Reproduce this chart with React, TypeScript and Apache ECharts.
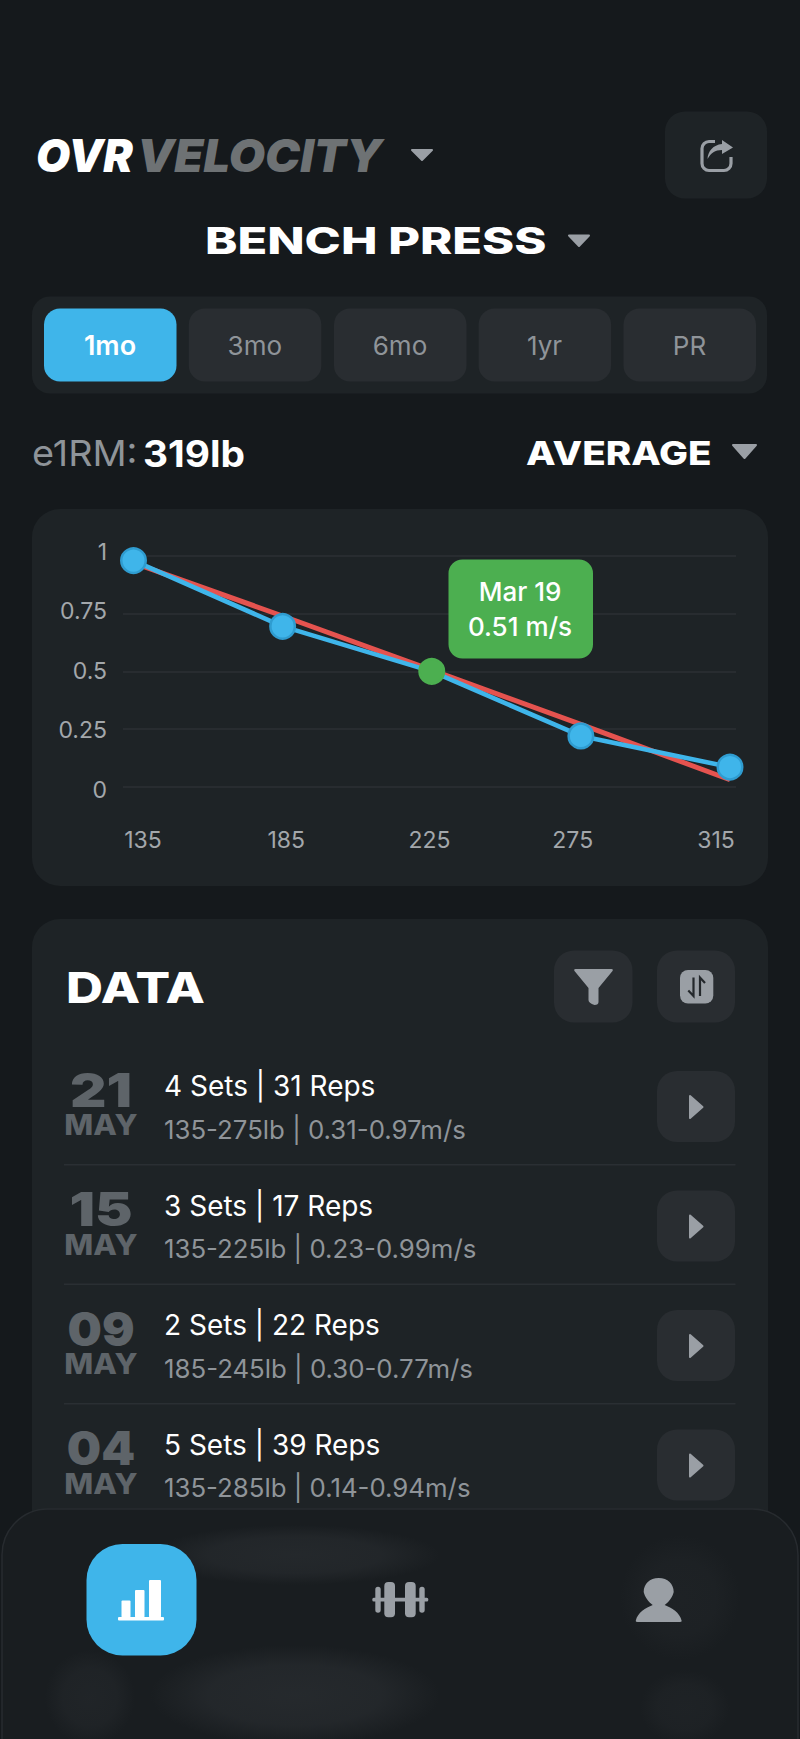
import { useEffect, useRef } from 'react';
import * as echarts from 'echarts';

const loads = ['135', '185', '225', '275', '315'];
const measuredVelocity = [0.98, 0.695, 0.5, 0.22, 0.085];
const trendVelocity = [0.97, 0.74, 0.505, 0.27, 0.03];
const selectedIndex = 2;
const selectedDate = 'Mar 19';
const selectedValue = '0.51 m/s';

const ranges = ['1mo', '3mo', '6mo', '1yr', 'PR'];
const days = ['21', '15', '09', '04'];
const months = ['MAY', 'MAY', 'MAY', 'MAY'];
const setCounts = [4, 3, 2, 5];
const repCounts = [31, 17, 22, 39];
const loadRanges = ['135-275lb', '135-225lb', '185-245lb', '135-285lb'];
const velocityRanges = ['0.31-0.97m/s', '0.23-0.99m/s', '0.30-0.77m/s', '0.14-0.94m/s'];

const FONT = 'Inter';
const BG = '#15191c';
const CARD = '#1e2326';
const BTN = '#292d31';
const BLUE = '#3fb5ea';
const BLUE_EDGE = '#2f9cd0';
const RED = '#e5534f';
const GREEN = '#4caf50';
const GREY = '#9a9fa5';
const DIM = '#8f9499';

echarts.graphic.registerShape('shareBox', echarts.graphic.extendPath(
  'M15 2.5 H9 a7 7 0 0 0 -7 7 V24.5 a7 7 0 0 0 7 7 H24 a7 7 0 0 0 7 -7 V18', {}));
echarts.graphic.registerShape('shareArrow', echarts.graphic.extendPath(
  'M22 1 L33 8.5 L22 15 V11 C15 11 11 14 7.5 20 C8 12 13 6 22 5 Z', {}));
echarts.graphic.registerShape('funnel', echarts.graphic.extendPath(
  'M2 0 H38 Q40 0 39 2 L25 19 V33 Q25 36 21 36 Q15 34 15 31 V19 L1 2 Q0 0 2 0 Z', {}));
echarts.graphic.registerShape('person', echarts.graphic.extendPath(
  'M0 43 C2 34 10 30 17 27 C13 24 9 19 8 14 C8 6 14 0 23 0 C32 0 38 6 38 14 C37 19 33 24 29 27 C36 30 44 34 46 43 Q46 44 44 44 H2 Q0 44 0 43 Z', {}));

function rect(x: number, y: number, w: number, h: number, r: number | number[], fill: string, extra: object = {}) {
  return { type: 'rect', z: -5, shape: { x, y, width: w, height: h, r }, style: { fill }, ...extra };
}

function tri(points: number[][], fill = GREY, z = -3) {
  return { type: 'polygon', z, shape: { points }, style: { fill, stroke: fill, lineWidth: 2, lineJoin: 'round' } };
}

function txt(
  text: string, x: number, y: number, size: number, fill: string,
  opts: { weight?: number; align?: string; scaleX?: number; italic?: boolean; z?: number } = {},
) {
  const align = opts.align ?? 'left';
  return {
    type: 'text',
    z: opts.z ?? -2,
    x,
    y,
    scaleX: opts.scaleX ?? 1,
    style: {
      text,
      fill,
      fontFamily: FONT,
      fontSize: size,
      fontWeight: opts.weight ?? 400,
      fontStyle: opts.italic ? 'italic' : 'normal',
      textAlign: align,
      align,
      textVerticalAlign: 'middle',
      verticalAlign: 'middle',
    },
  };
}

function headerElements() {
  const tabXs = [44, 188.8, 334, 478.6, 623.5];
  return [
    txt('OVR', 36, 155, 46, '#ffffff', { weight: 900, italic: true, scaleX: 0.96 }),
    txt('VELOCITY', 137, 155, 46, '#6e7274', { weight: 900, italic: true, scaleX: 1.02 }),
    tri([[412, 150], [432, 150], [422, 160]]),
    rect(665, 111.5, 102, 87, 20, CARD),
    { type: 'shareBox', z: -3, x: 700, y: 139, style: { fill: 'none', stroke: GREY, lineWidth: 3.2 } },
    { type: 'shareArrow', z: -3, x: 700, y: 139, style: { fill: GREY } },
    txt('BENCH PRESS', 205, 240.5, 37, '#ffffff', { weight: 800, scaleX: 1.32 }),
    tri([[569, 235.5], [589, 235.5], [579, 246]]),
    rect(32, 296.5, 735, 97, 18, CARD),
    ...ranges.flatMap((label, i) => {
      const active = i === 0;
      return [
        rect(tabXs[i], 308.5, 132.5, 73, 16, active ? BLUE : BTN, { z: -4 }),
        txt(label, tabXs[i] + 66, 345.5, active ? 27 : 26, active ? '#ffffff' : DIM, { weight: active ? 600 : 400, align: 'center' }),
      ];
    }),
    txt('e1RM:', 32, 453, 36, DIM, { scaleX: 1.05 }),
    txt('319lb', 143, 453, 37, '#ffffff', { weight: 700, scaleX: 1.05 }),
    txt('AVERAGE', 526, 453.5, 32, '#ffffff', { weight: 800, scaleX: 1.205 }),
    tri([[733, 445], [756, 445], [744.5, 458]]),
  ];
}

function chartElements() {
  return [
    rect(32, 509, 736, 377, 28, CARD, { z: -6 }),
    rect(448.5, 559.5, 144.5, 99, 14, GREEN, { z: 5 }),
    txt(selectedDate, 520, 591.5, 26, '#ffffff', { align: 'center', z: 6, weight: 500 }),
    txt(selectedValue, 520, 626, 26, '#ffffff', { align: 'center', z: 6, weight: 500 }),
  ];
}

function listElements() {
  const STEP = 119.5;
  const out: object[] = [
    rect(32, 919, 736, 640, 28, CARD, { z: -6 }),
    txt('DATA', 66, 987.5, 42, '#ffffff', { weight: 800, scaleX: 1.22 }),
    rect(554, 950.5, 78.5, 72, 20, BTN),
    { type: 'funnel', z: -3, x: 573.5, y: 969, style: { fill: GREY } },
    rect(657, 950.5, 78, 72, 20, BTN),
    rect(680, 970, 33.3, 33.5, 8, GREY, { z: -4 }),
    {
      type: 'polyline', z: -3,
      shape: { points: [[693.5, 977.5], [693.5, 996], [688.3, 990.5]] },
      style: { fill: 'none', stroke: '#24282c', lineWidth: 2.2 },
    },
    {
      type: 'polyline', z: -3,
      shape: { points: [[700, 996], [700, 977.5], [705, 983]] },
      style: { fill: 'none', stroke: '#24282c', lineWidth: 2.2 },
    },
  ];
  days.forEach((day, i) => {
    const dy = i * STEP;
    // a "1" is narrow in this font, so those numerals need more stretch
    const dayScale = day.includes('1') ? 1.2 : 1.03;
    out.push(
      txt(day, 101, 1090 + dy, 47, '#5e6469', { weight: 900, align: 'center', scaleX: dayScale }),
      txt(months[i], 101, 1124.5 + dy, 29, '#5e6469', { weight: 800, align: 'center', scaleX: 1.06 }),
      txt(`${setCounts[i]} Sets | ${repCounts[i]} Reps`, 164, 1086 + dy, 28, '#ffffff'),
      txt(`${loadRanges[i]} | ${velocityRanges[i]}`, 164, 1129 + dy, 25.8, DIM),
      rect(657, 1071 + dy, 78, 71, 20, BTN),
      tri([[690, 1096 + dy], [702.5, 1107 + dy], [690, 1118 + dy]]),
    );
    if (i < days.length - 1) {
      out.push({
        type: 'line', z: -4,
        shape: { x1: 64, y1: 1164.7 + dy, x2: 735.5, y2: 1164.7 + dy },
        style: { stroke: '#2a2f33', lineWidth: 1.5 },
      });
    }
  });
  return out;
}

function navElements() {
  // the frosted bar shows the list behind it as soft smudges
  const blob = (x: number, y: number, w: number, h: number, alpha: number) => ({
    type: 'rect',
    z: 1,
    shape: { x, y, width: w, height: h },
    style: {
      fill: {
        type: 'radial',
        x: 0.5,
        y: 0.5,
        r: 0.5,
        colorStops: [
          { offset: 0, color: `rgba(50,54,58,${alpha})` },
          { offset: 0.6, color: `rgba(50,54,58,${alpha * 0.8})` },
          { offset: 1, color: 'rgba(50,54,58,0)' },
        ],
      },
    },
  });
  return [
    {
      type: 'rect', z: 1,
      shape: { x: 2, y: 1509, width: 796, height: 240, r: [46, 46, 0, 0] },
      style: { fill: '#191d20', stroke: '#272b2f', lineWidth: 1.5 },
    },
    blob(150, 1525, 290, 60, 0.45),
    blob(150, 1645, 290, 100, 0.5),
    blob(45, 1650, 90, 95, 0.3),
    blob(620, 1535, 120, 125, 0.2),
    blob(640, 1670, 90, 75, 0.22),
    rect(86.5, 1544, 110, 111.5, 36, BLUE, { z: 2 }),
    rect(118, 1617, 46, 3.5, 1, '#ffffff', { z: 3 }),
    rect(121.5, 1600.5, 9, 17, 1, '#ffffff', { z: 3 }),
    rect(135, 1590, 9.5, 27.5, 1, '#ffffff', { z: 3 }),
    rect(149, 1580, 12, 37.5, 1, '#ffffff', { z: 3 }),
    rect(372.3, 1597.8, 56, 3.8, 1.5, GREY, { z: 3 }),
    rect(375.3, 1586.7, 5.4, 26, 2.7, GREY, { z: 3 }),
    rect(419.3, 1586.7, 5.4, 26, 2.7, GREY, { z: 3 }),
    rect(384.3, 1582, 10.7, 35.3, 4, GREY, { z: 3 }),
    rect(405, 1582, 10.7, 35.3, 4, GREY, { z: 3 }),
    { type: 'person', z: 3, x: 635.7, y: 1578, style: { fill: GREY } },
  ];
}

function buildOption() {
  const axisText = { color: '#a3a7ab', fontFamily: FONT, fontSize: 23 };
  return {
    animation: false,
    backgroundColor: BG,
    graphic: { elements: [...headerElements(), ...chartElements(), ...listElements(), ...navElements()] },
    // gridlines, marks and tick labels each have their own slightly offset box
    grid: [
      { left: 123, right: 64, top: 556, height: 230.7 },
      { left: 133.5, right: 70, top: 556, height: 230.7 },
      { left: 143, right: 84, top: 551.7, height: 238.3 },
    ],
    xAxis: [
      { gridIndex: 0, type: 'category', data: loads, show: false },
      { gridIndex: 1, type: 'category', boundaryGap: false, data: loads, show: false },
      {
        gridIndex: 2,
        type: 'category',
        boundaryGap: false,
        data: loads,
        axisLine: { show: false },
        axisTick: { show: false },
        axisLabel: { ...axisText, margin: 38, interval: 0 },
      },
    ],
    yAxis: [
      {
        gridIndex: 0,
        type: 'value',
        min: 0,
        max: 1,
        interval: 0.25,
        axisLine: { show: false },
        axisTick: { show: false },
        axisLabel: { show: false },
        splitLine: { lineStyle: { color: '#2c3135', width: 1.5 } },
      },
      { gridIndex: 1, type: 'value', min: 0, max: 1, show: false },
      {
        gridIndex: 2,
        type: 'value',
        min: 0,
        max: 1,
        interval: 0.25,
        axisLine: { show: false },
        axisTick: { show: false },
        splitLine: { show: false },
        axisLabel: { ...axisText, margin: 36 },
      },
    ],
    series: [
      {
        type: 'line',
        xAxisIndex: 1,
        yAxisIndex: 1,
        data: trendVelocity,
        showSymbol: false,
        symbol: 'none',
        lineStyle: { color: RED, width: 5 },
      },
      {
        type: 'line',
        xAxisIndex: 1,
        yAxisIndex: 1,
        data: measuredVelocity.map((value, i) => ({
          value,
          itemStyle: i === selectedIndex
            ? { color: GREEN, borderColor: GREEN, borderWidth: 2.5 }
            : { color: BLUE, borderColor: BLUE_EDGE, borderWidth: 2.5 },
        })),
        symbol: 'circle',
        symbolSize: 24.5,
        lineStyle: { color: BLUE, width: 4.6 },
        z: 3,
      },
    ],
  };
}

export default function App() {
  const ref = useRef<HTMLDivElement | null>(null);

  useEffect(() => {
    if (!ref.current) return;
    document.body.style.margin = '0';
    const chart = echarts.init(ref.current, undefined, { renderer: 'svg' });
    chart.setOption(buildOption());
    return () => chart.dispose();
  }, []);

  return <div ref={ref} style={{ width: 800, height: 1739 }} />;
}
